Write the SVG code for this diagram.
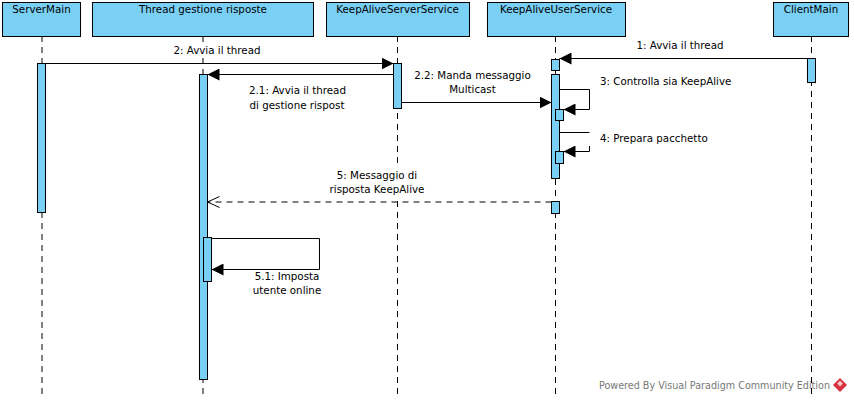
<svg xmlns="http://www.w3.org/2000/svg" width="854" height="403" viewBox="0 0 854 403">
<defs>
<style>
text{font-family:"DejaVu Sans","Liberation Sans",sans-serif;font-size:10.3px;fill:#000}
.hdr{fill:#7ACFF5;stroke:#000;stroke-width:1}
.act{fill:#7ACFF5;stroke:#000;stroke-width:1}
.life{stroke:#000;stroke-width:1;stroke-dasharray:6,5;fill:none}
.msg{stroke:#000;stroke-width:1;fill:none}
.ret{stroke:#000;stroke-width:1;fill:none;stroke-dasharray:6,5}
.mid{text-anchor:middle}
.bg{fill:#fff}
.wm{fill:#777;font-size:10.5px}
</style>
<marker id="fill" markerWidth="12" markerHeight="12" refX="12" refY="6" orient="auto" markerUnits="userSpaceOnUse">
<path d="M0,0 L12,6 L0,12 Z" fill="#000"/>
</marker>
<marker id="open" markerWidth="14" markerHeight="14" refX="13" refY="6.5" orient="auto" markerUnits="userSpaceOnUse">
<path d="M1,1 L13,6.5 L1,12" fill="none" stroke="#000" stroke-width="1"/>
</marker>
</defs>
<rect width="854" height="403" fill="#fff"/>

<g id="lifelines">
<line class="life" x1="42" y1="36" x2="42" y2="398"/>
<line class="life" x1="203" y1="36" x2="203" y2="398"/>
<line class="life" x1="397.5" y1="36" x2="397.5" y2="398"/>
<line class="life" x1="555.5" y1="36" x2="555.5" y2="398"/>
<line class="life" x1="811.5" y1="36" x2="811.5" y2="398"/>
</g>

<g id="label-backgrounds">
<rect class="bg" x="171" y="43" width="92" height="14"/>
<rect class="bg" x="330" y="168" width="94" height="29"/>
</g>

<g id="ServerMain">
<rect class="hdr" x="2.5" y="2.5" width="78" height="34"/>
<text class="mid" x="41.5" y="13">ServerMain</text>
<rect class="act" x="37.5" y="63.5" width="8" height="149"/>
</g>
<g id="ThreadGestioneRisposte">
<rect class="hdr" x="92.5" y="2.5" width="221" height="34"/>
<text class="mid" x="203" y="13">Thread gestione risposte</text>
<rect class="act" x="199.5" y="74.5" width="8" height="305"/>
<rect class="act" x="203.5" y="237.5" width="8" height="44"/>
</g>
<g id="KeepAliveServerService">
<rect class="hdr" x="326.5" y="2.5" width="143" height="34"/>
<text class="mid" x="397.5" y="13">KeepAliveServerService</text>
<rect class="act" x="393.5" y="63.5" width="8" height="45"/>
</g>
<g id="KeepAliveUserService">
<rect class="hdr" x="487.5" y="2.5" width="138" height="34"/>
<text class="mid" x="556" y="13">KeepAliveUserService</text>
<rect class="act" x="551.5" y="59.5" width="8" height="11"/>
<rect class="act" x="551.5" y="74.5" width="8" height="104"/>
<rect class="act" x="555.5" y="109.5" width="8" height="11"/>
<rect class="act" x="555.5" y="151.5" width="8" height="12"/>
<rect class="act" x="551.5" y="201.5" width="8" height="12"/>
</g>
<g id="ClientMain">
<rect class="hdr" x="773.5" y="2.5" width="75" height="34"/>
<text class="mid" x="811" y="13">ClientMain</text>
<rect class="act" x="807.5" y="58.5" width="8" height="24"/>
</g>

<g id="connectors">
<line class="msg" x1="807.5" y1="58.5" x2="559.5" y2="58.5" marker-end="url(#fill)"/>
<line class="msg" x1="45.5" y1="63.5" x2="393.5" y2="63.5" marker-end="url(#fill)"/>
<line class="msg" x1="393.5" y1="74.5" x2="207.5" y2="74.5" marker-end="url(#fill)"/>
<line class="msg" x1="401.5" y1="102.5" x2="551.5" y2="102.5" marker-end="url(#fill)"/>
<polyline class="msg" points="559.5,89.5 589.5,89.5 589.5,109.5 563.5,109.5" marker-end="url(#fill)"/>
<line class="msg" x1="559.5" y1="132.5" x2="589.5" y2="132.5"/>
<polyline class="msg" points="589.5,146 589.5,151.5 563.5,151.5" marker-end="url(#fill)"/>
<line class="ret" x1="551.5" y1="202" x2="207.5" y2="202" marker-end="url(#open)"/>
<polyline class="msg" points="211.5,238.5 319.5,238.5 319.5,269.5 211.5,269.5" marker-end="url(#fill)"/>
</g>

<g id="labels">
<text class="mid" x="680" y="49">1: Avvia il thread</text>
<text class="mid" x="217" y="54">2: Avvia il thread</text>
<text class="mid" x="297.5" y="94">2.1: Avvia il thread</text>
<text class="mid" x="297" y="109">di gestione rispost</text>
<text class="mid" x="472.5" y="79">2.2: Manda messaggio</text>
<text class="mid" x="472.5" y="93">Multicast</text>
<text x="600" y="85">3: Controlla sia KeepAlive</text>
<text x="600" y="142">4: Prepara pacchetto</text>
<text class="mid" x="377" y="179">5: Messaggio di</text>
<text class="mid" x="377" y="193">risposta KeepAlive</text>
<text class="mid" x="287" y="280">5.1: Imposta</text>
<text class="mid" x="287" y="294">utente online</text>
</g>

<g id="watermark">
<text class="wm" x="599" y="389" textLength="231" lengthAdjust="spacingAndGlyphs">Powered By Visual Paradigm Community Edition</text>
<g transform="translate(840,385) rotate(45)">
<rect x="-5" y="-5" width="10" height="10" fill="#d9333f"/>
<rect x="-3" y="-3" width="4" height="4" fill="#f7c9cc"/>
</g>
</g>
</svg>
